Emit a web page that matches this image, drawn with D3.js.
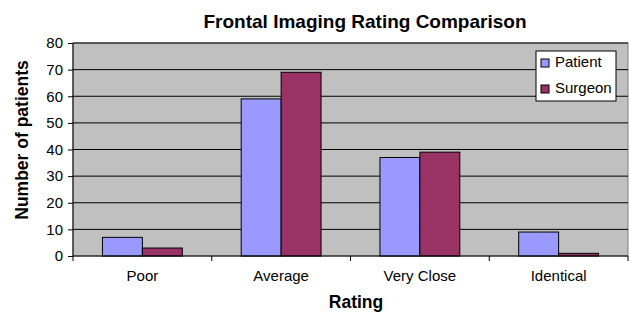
<!DOCTYPE html>
<meta charset="utf-8">
<style>
body{margin:0;background:white}
text{font-family:"Liberation Sans",Arial,sans-serif}
.axis path,.axis line{stroke:black}
</style>
<svg width="630" height="313"></svg>
<script src="https://d3js.org/d3.v7.min.js"></script>
<script>

var ratings = ["Poor", "Average", "Very Close", "Identical"];
var seriesNames = ["Patient", "Surgeon"];
var patientValues = [7, 59, 37, 9];
var surgeonValues = [3, 69, 39, 1];
var yTicks = [0, 10, 20, 30, 40, 50, 60, 70, 80];
var colors = ["#9999ff", "#993366"];

var svg = d3.select("svg");
var margin = {left: 73, right: 2, top: 43, bottom: 57};
var width = 630 - margin.left - margin.right,
    height = 313 - margin.top - margin.bottom;

var data = ratings.map(function(r, i) {
  return {rating: r, values: [patientValues[i], surgeonValues[i]]};
});

// excel style: gap width 150% of a bar
var x0 = d3.scaleBand().domain(ratings).range([0, width])
    .paddingInner(0.4245).paddingOuter(0.21225);
var x1 = d3.scaleBand().domain(seriesNames).range([0, x0.bandwidth()]);
var y = d3.scaleLinear().domain([0, 80]).range([height, 0]);

var g = svg.append("g").attr("transform", "translate(" + margin.left + "," + margin.top + ")");

// plot background
g.append("rect").attr("width", width).attr("height", height)
  .attr("fill", "#c0c0c0").attr("stroke", "#808080");

// gridlines
g.selectAll(".grid").data(yTicks.slice(1)).enter().append("line")
  .attr("x1", 0).attr("x2", width)
  .attr("y1", d => y(d)).attr("y2", d => y(d))
  .attr("stroke", "black");

// bars
var groups = g.selectAll(".grp").data(data).enter().append("g")
  .attr("transform", d => "translate(" + x0(d.rating) + ",0)");
groups.selectAll("rect").data(d => d.values.map((v, i) => ({name: seriesNames[i], v: v, i: i})))
  .enter().append("rect")
  .attr("x", d => x1(d.name))
  .attr("y", d => y(d.v))
  .attr("width", x1.bandwidth())
  .attr("height", d => height - y(d.v))
  .attr("fill", d => colors[d.i])
  .attr("stroke", "black").attr("stroke-width", 1);

// y axis
var yAxis = g.append("g").attr("class", "axis")
  .call(d3.axisLeft(y).tickValues(yTicks).tickSize(5).tickPadding(5));
yAxis.select(".domain").attr("d", "M0," + height + "V0");
yAxis.selectAll("text").style("font-size", "15px").attr("fill", "black");

// x axis with ticks at category boundaries
var xAxis = g.append("g").attr("class", "axis")
  .attr("transform", "translate(0," + height + ")");
xAxis.append("line").attr("x1", 0).attr("x2", width).attr("stroke", "black");
var step = x0.step();
xAxis.selectAll(".tk").data(d3.range(ratings.length + 1)).enter().append("line")
  .attr("x1", d => d * step).attr("x2", d => d * step)
  .attr("y1", 0).attr("y2", 5).attr("stroke", "black");
xAxis.selectAll(".lbl").data(ratings).enter().append("text")
  .attr("x", d => x0(d) + x0.bandwidth() / 2)
  .attr("y", 24.5).attr("text-anchor", "middle")
  .style("font-size", "15px").text(d => d);

// titles
svg.append("text").attr("x", 365).attr("y", 28).attr("text-anchor", "middle")
  .style("font-size", "19px").style("font-weight", "bold")
  .text("Frontal Imaging Rating Comparison");
svg.append("text").attr("x", 356).attr("y", 308).attr("text-anchor", "middle")
  .style("font-size", "17.5px").style("font-weight", "bold").text("Rating");
svg.append("text").attr("transform", "translate(28,140) rotate(-90)")
  .attr("text-anchor", "middle")
  .style("font-size", "17.5px").style("font-weight", "bold")
  .text("Number of patients");

// legend
var lg = svg.append("g").attr("transform", "translate(536,51)");
lg.append("rect").attr("width", 80).attr("height", 50)
  .attr("fill", "white").attr("stroke", "black");
seriesNames.forEach(function(n, i) {
  lg.append("rect").attr("x", 5).attr("y", 8 + i * 26)
    .attr("width", 8).attr("height", 8)
    .attr("fill", colors[i]).attr("stroke", "black");
  lg.append("text").attr("x", 19).attr("y", 16 + i * 26)
    .style("font-size", "15px").text(n);
});

</script>
